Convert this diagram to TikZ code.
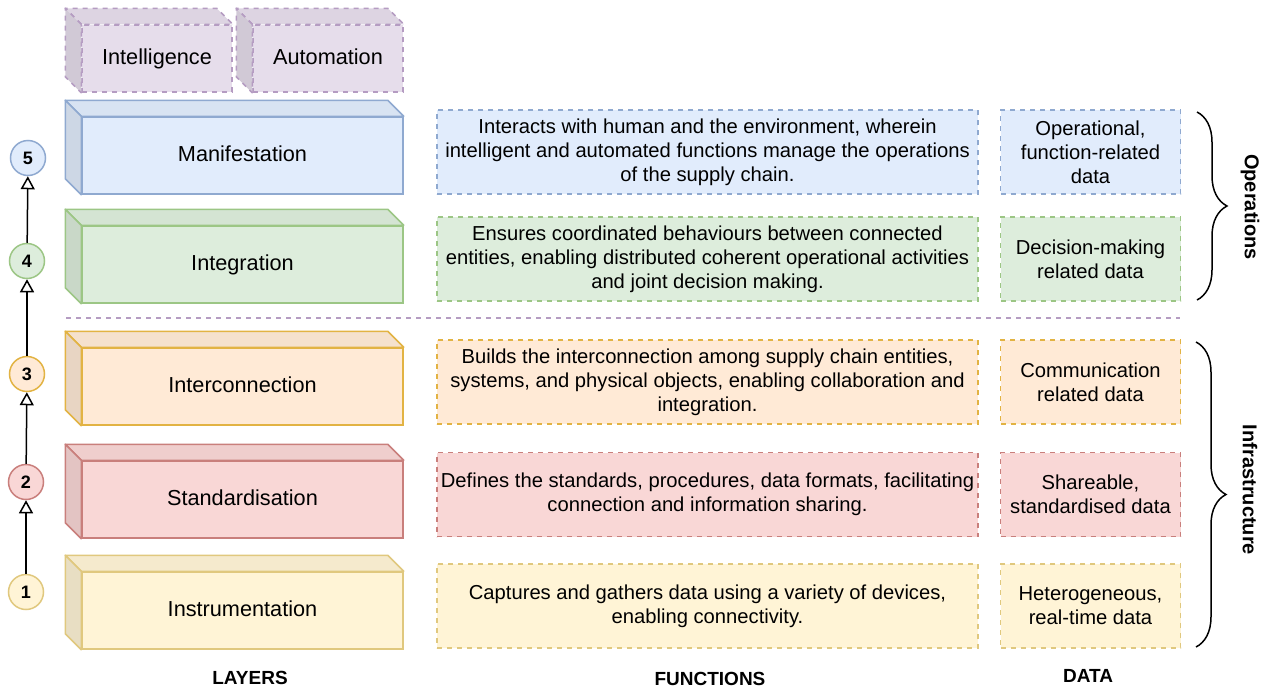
\documentclass[tikz,border=0pt]{standalone}
\usepackage{fontspec}
\setmainfont{Liberation Sans}
\usepackage{tikz}
\usetikzlibrary{arrows.meta, positioning, calc, decorations.pathreplacing}

\definecolor{blueFill}{HTML}{E1ECFC}   \definecolor{blueLine}{HTML}{8FA9D0}
\definecolor{greenFill}{HTML}{DDEDDC}  \definecolor{greenLine}{HTML}{9CC685}
\definecolor{orangeFill}{HTML}{FFEAD6} \definecolor{orangeLine}{HTML}{E2B343}
\definecolor{redFill}{HTML}{F9D7D6}    \definecolor{redLine}{HTML}{C97F7C}
\definecolor{yellowFill}{HTML}{FFF4D6} \definecolor{yellowLine}{HTML}{E0C87E}
\definecolor{purpleFill}{HTML}{E6DDEB} \definecolor{purpleLine}{HTML}{B59CC2}

% top and left faces behind a front face node
\newcommand{\cubesides}[4][]{%
  \filldraw[fill=#3!96!black, draw=#4, line width=0.75pt, line join=round, #1] (#2.north west) -- ++(-16,-16) -- ($(#2.north east)+(-16,-16)$) -- (#2.north east) -- cycle;
  \filldraw[fill=#3!91!black, draw=#4, line width=0.75pt, line join=round, #1] (#2.north west) -- ++(-16,-16) -- ($(#2.south west)+(-16,-16)$) -- (#2.south west) -- cycle;
}

\begin{document}
\begin{tikzpicture}[x=0.5pt, y=-0.5pt,
    layerface/.style={rectangle, draw, line width=0.75pt, minimum width=160.5pt, minimum height=38.5pt, inner sep=0pt, text height=0.72em, text depth=0.1em, font=\fontsize{10.85}{13}\selectfont},
    funbox/.style={rectangle, draw, dash pattern=on 2.5pt off 2.5pt, line width=0.75pt, minimum width=270.5pt, minimum height=42pt, inner sep=0pt, align=center, font=\fontsize{10.1}{12.1}\selectfont},
    databox/.style={funbox, minimum width=90pt},
    stage/.style={circle, draw, line width=0.75pt, minimum size=17.5pt, inner sep=0pt, font=\fontsize{9}{10}\selectfont\bfseries},
    climb/.style={-{Triangle[open, length=6.5pt, width=7pt]}, line width=0.75pt},
    colhead/.style={font=\fontsize{9.5}{11}\selectfont\bfseries},
    sidelabel/.style={rotate=-90, font=\fontsize{10}{12}\selectfont\bfseries}]
  \useasboundingbox (0,0) rectangle (1265,691);

  % Intelligence and automation
  \node[layerface, minimum width=75pt, minimum height=33.5pt, fill=purpleFill, draw=purpleLine, dash pattern=on 2.5pt off 2.5pt] (intel) at (157,58.5) {Intelligence};
  \cubesides[dash pattern=on 2.5pt off 2.5pt]{intel}{purpleFill}{purpleLine}
  \node[layerface, minimum width=75pt, minimum height=33.5pt, fill=purpleFill, draw=purpleLine, dash pattern=on 2.5pt off 2.5pt] (autom) at (328,58.5) {Automation};
  \cubesides[dash pattern=on 2.5pt off 2.5pt]{autom}{purpleFill}{purpleLine}

  % Layers
  \node[layerface, fill=blueFill, draw=blueLine] (manif) at (242.5,155.5) {Manifestation};
  \cubesides{manif}{blueFill}{blueLine}
  \node[layerface, fill=greenFill, draw=greenLine] (integ) at (242.5,264.5) {Integration};
  \cubesides{integ}{greenFill}{greenLine}
  \node[layerface, fill=orangeFill, draw=orangeLine] (interc) at (242.5,386.5) {Interconnection};
  \cubesides{interc}{orangeFill}{orangeLine}
  \node[layerface, fill=redFill, draw=redLine] (stand) at (242.5,499.5) {Standardisation};
  \cubesides{stand}{redFill}{redLine}
  \node[layerface, fill=yellowFill, draw=yellowLine] (instr) at (242.5,610.5) {Instrumentation};
  \cubesides{instr}{yellowFill}{yellowLine}

  % Stages and arrows
  \node[stage, fill=yellowFill, draw=yellowLine] (s1) at (26,592) {1};
  \node[stage, fill=redFill, draw=redLine] (s2) at (26,482) {2};
  \node[stage, fill=orangeFill, draw=orangeLine] (s3) at (27,374) {3};
  \node[stage, fill=greenFill, draw=greenLine] (s4) at (27,261) {4};
  \node[stage, fill=blueFill, draw=blueLine] (s5) at (28,158) {5};
  \draw[climb] (s1) -- (s2);
  \draw[climb] (s2) -- (s3);
  \draw[climb] (s3) -- (s4);
  \draw[climb] (s4) -- (s5);

  % Functions
  \node[funbox, fill=blueFill, draw=blueLine] (funmanif) at (707.5,152) {Interacts with human and the environment, wherein\\intelligent and automated functions manage the operations\\of the supply chain.};
  \node[funbox, fill=greenFill, draw=greenLine] (funinteg) at (707.5,259) {Ensures coordinated behaviours between connected\\entities, enabling distributed coherent operational activities\\and joint decision making.};
  \node[funbox, fill=orangeFill, draw=orangeLine] (funinterc) at (707.5,382) {Builds the interconnection among supply chain entities,\\systems, and physical objects, enabling collaboration and\\integration.};
  \node[funbox, fill=redFill, draw=redLine] (funstand) at (707.5,494.5) {Defines the standards, procedures, data formats, facilitating\\connection and information sharing.};
  \node[funbox, fill=yellowFill, draw=yellowLine] (funinstr) at (707.5,606) {Captures and gathers data using a variety of devices,\\enabling connectivity.};

  % Data
  \node[databox, fill=blueFill, draw=blueLine, right=10.5pt of funmanif] (datamanif) {Operational,\\function-related\\data};
  \node[databox, fill=greenFill, draw=greenLine, right=10.5pt of funinteg] (datainteg) {Decision-making\\related data};
  \node[databox, fill=orangeFill, draw=orangeLine, right=10.5pt of funinterc] (datainterc) {Communication\\related data};
  \node[databox, fill=redFill, draw=redLine, right=10.5pt of funstand] (datastand) {Shareable,\\standardised data};
  \node[databox, fill=yellowFill, draw=yellowLine, right=10.5pt of funinstr] (datainstr) {Heterogeneous,\\real-time data};

  % Separator and braces
  \draw[purpleLine, line width=0.75pt, dash pattern=on 2.5pt off 2.5pt] (66,318) -- (1180,318);
  \draw[decorate, decoration={brace, amplitude=15pt}, line width=0.75pt] (1197,112) -- (1197,300);
  \draw[decorate, decoration={brace, amplitude=15pt}, line width=0.75pt] (1196,342) -- (1196,647);
  \node[sidelabel] (ops) at (1250,207) {Operations};
  \node[sidelabel] (infra) at (1250,490) {Infrastructure};

  % Column headings
  \node[colhead] (hlayers) at (250,678) {LAYERS};
  \node[colhead] (hfuns) at (710,679) {FUNCTIONS};
  \node[colhead] (hdata) at (1088,676) {DATA};
\end{tikzpicture}
\end{document}
